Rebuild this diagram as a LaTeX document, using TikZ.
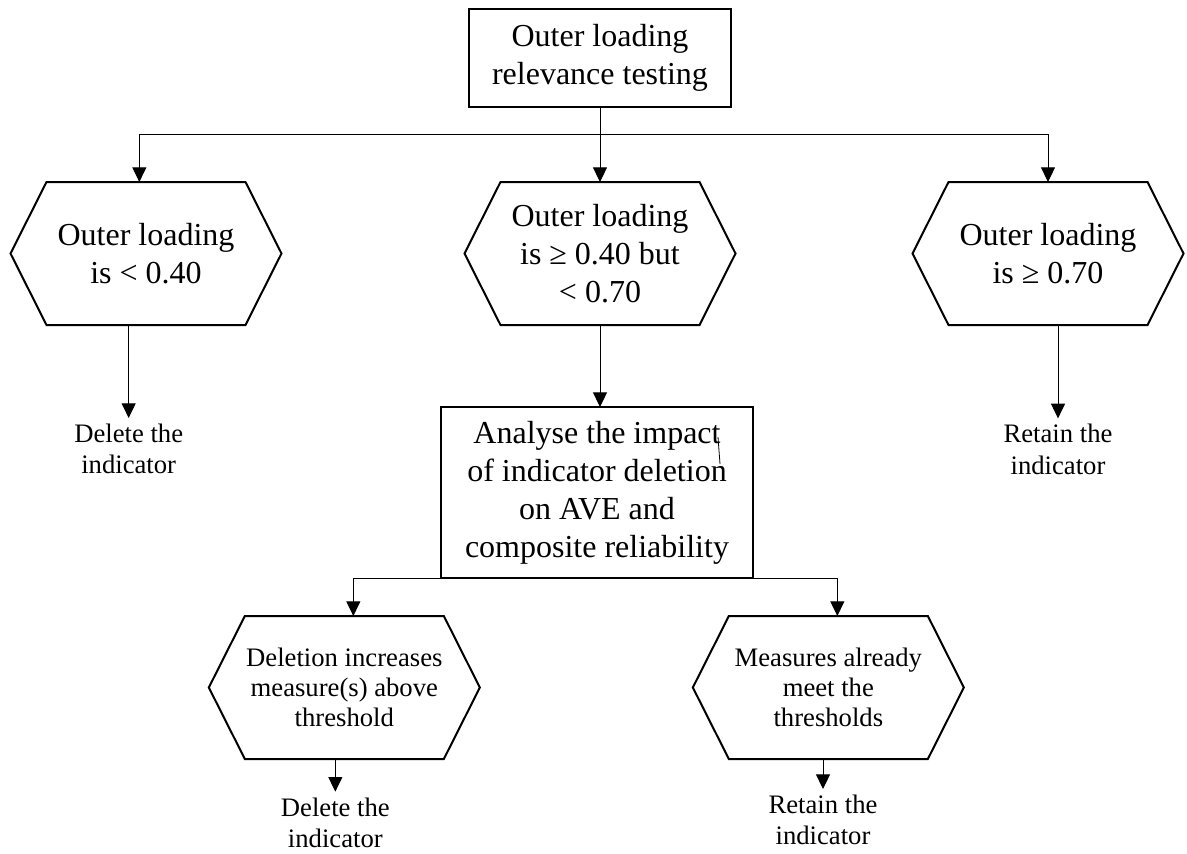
\documentclass[tikz,border=0pt]{standalone}
\usepackage{fontspec}
\setmainfont{Liberation Serif}
\usepackage{tikz}
\usetikzlibrary{arrows.meta,positioning,calc}
\newcommand{\fsbig}{\fontsize{24pt}{28.5pt}\selectfont}
\newcommand{\fsmid}{\fontsize{20pt}{22.5pt}\selectfont}
\newcommand{\fssmall}{\fontsize{20pt}{23.5pt}\selectfont}
\newcommand{\hexframe}[1]{%
  \draw[hexline] (#1.north west) -- (#1.north east) -- ([xshift=27pt]#1.east)
    -- (#1.south east) -- (#1.south west) -- ([xshift=-27pt]#1.west) -- cycle;}

\begin{document}
\begin{tikzpicture}[
    >={Triangle[width=10.5pt,length=11pt]},
    box/.style={draw, line width=0.8pt, align=center, font=\fsbig, inner sep=0pt, outer sep=0pt},
    hexbox/.style={align=center, font=\fsbig, minimum width=149.25pt, minimum height=107.25pt, inner sep=0pt, outer sep=0pt},
    hexline/.style={line width=1.5pt, line join=miter},
    outcome/.style={align=center, font=\fssmall, inner sep=4.5pt, outer sep=0pt},
    flow/.style={->, line width=0.75pt}
]
\useasboundingbox (0,0) rectangle (890.25pt,-639.75pt);
\node[box, minimum width=196.5pt, minimum height=73.5pt] (top) at (450pt,-43.5pt) {Outer loading\\relevance testing};
\node[hexbox, below=56.25pt of top] (mid) {Outer loading\\is ≥ 0.40 but\\< 0.70};
\node[hexbox, left=191.25pt of mid] (low) {Outer loading\\is < 0.40};
\node[hexbox, right=186.75pt of mid] (high) {Outer loading\\is ≥ 0.70};
\node[box, minimum width=234pt, minimum height=128.25pt, below=61.5pt of mid, xshift=-2.25pt] (check) {Analyse the impact\\of indicator deletion\\on AVE and\\composite reliability};
\node[hexbox, font=\fsmid, below=28.5pt of check, xshift=-189.5pt] (grow) {Deletion increases\\measure(s) above\\threshold};
\node[hexbox, font=\fsmid, below=28.5pt of check, xshift=173.5pt] (meet) {Measures already\\meet the\\thresholds};
\node[outcome, below=69.75pt of low, xshift=-13pt] (lowout) {Delete the\\indicator};
\node[outcome, below=70pt of high, xshift=7.5pt] (highout) {Retain the\\indicator};
\node[outcome, below=24.5pt of grow, xshift=-6.75pt] (growout) {Delete the\\indicator};
\node[outcome, below=22.5pt of meet, xshift=-4pt] (meetout) {Retain the\\indicator};
% hexagon outlines round the decision nodes
\hexframe{low}
\hexframe{mid}
\hexframe{high}
\hexframe{grow}
\hexframe{meet}
% first split
\coordinate (fork) at ($(top.south)+(0,-20.25pt)$);
\draw[flow] (top) -- (mid);
\draw[flow] (fork) -| ([xshift=-5pt]low.north);
\draw[flow] (fork) -| (high.north);
\draw[flow] (mid.south) -- (mid.south |- check.north);
% second split along the bottom of the box
\draw[flow] (check.south) -| ([xshift=6.75pt]grow.north);
\draw[flow] (check.south) -| ([xshift=6.75pt]meet.north);
% outcomes
\draw[flow] (low.south -| lowout.north) -- (lowout.north);
\draw[flow] (high.south -| highout.north) -- (highout.north);
\draw[flow] (grow.south -| growout.north) -- (growout.north);
\draw[flow] (meet.south -| meetout.north) -- (meetout.north);
\draw[line width=0.6pt] ($(check.center)+(90.75pt,41.6pt)$) -- ++(1.5pt,-20.25pt);
\end{tikzpicture}
\end{document}
